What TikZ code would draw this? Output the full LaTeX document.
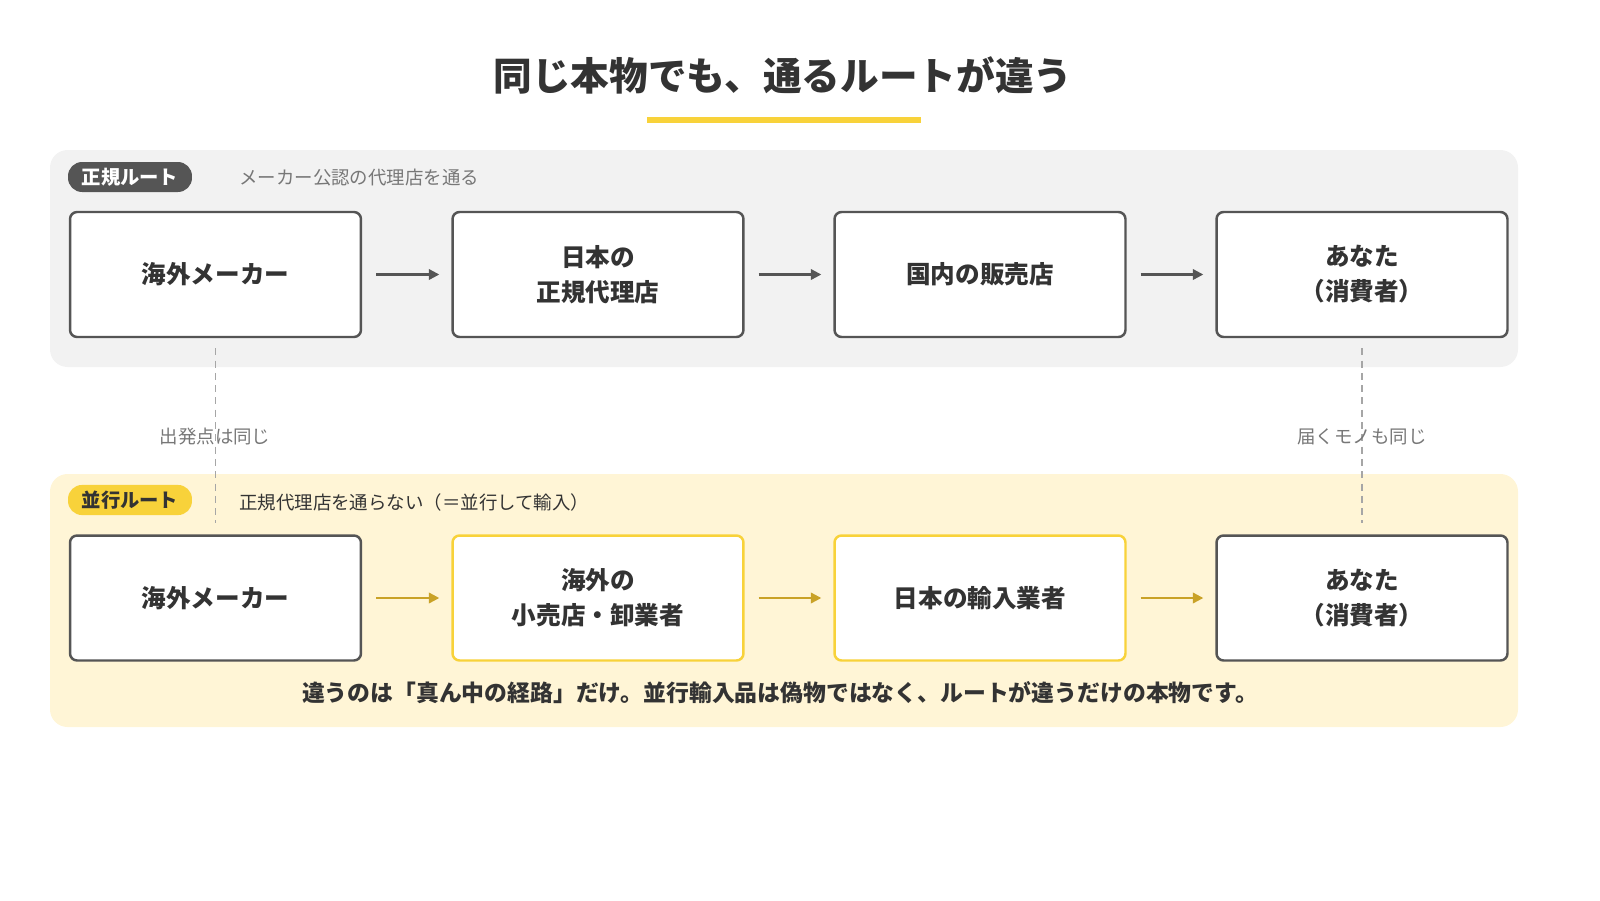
\documentclass[tikz,border=0pt]{standalone}
\usepackage{fontspec}
\setmainfont{Noto Sans CJK JP}
\usetikzlibrary{arrows.meta,positioning}
\definecolor{ink}{HTML}{333333}
\definecolor{frame}{HTML}{555555}
\definecolor{soft}{HTML}{777777}
\definecolor{gold}{HTML}{F8D23A}
\definecolor{mustard}{HTML}{C9A227}
\definecolor{panelgray}{HTML}{F2F2F2}
\definecolor{panelyellow}{HTML}{FFF5D6}

\begin{document}
\begin{tikzpicture}[x=0.02cm, y=-0.02cm,
    stage/.style={rectangle, draw=frame, line width=1.4pt, fill=white, rounded corners=4pt,
        minimum width=5.82cm, minimum height=2.5cm, align=center, text=ink,
        font=\fontsize{14}{20}\selectfont\bfseries},
    alt/.style={stage, draw=gold},
    badge/.style={rectangle, rounded corners=8pt, minimum width=2.48cm, minimum height=0.6cm,
        font=\fontsize{11}{13}\selectfont\bfseries},
    note/.style={text=soft, font=\fontsize{10.5}{12}\selectfont},
    go/.style={-{Triangle[length=6pt,width=6pt]}, line width=1.3pt, draw=frame,
        shorten <=0.28cm, shorten >=0.24cm},
    gogold/.style={go, draw=mustard},
    link/.style={draw=gray!70, line width=0.8pt, dash pattern=on 4pt off 3pt}]
    \useasboundingbox (0,0) rectangle (1600,900);

    % title
    \node[text=ink, font=\fontsize{22}{26}\selectfont\bfseries] (title) at (783,75) {同じ本物でも、通るルートが違う};
    \fill[gold] (647,117) rectangle (921,123);

    % panels
    \fill[panelgray, rounded corners=10pt] (50,150) rectangle (1518,367);
    \fill[panelyellow, rounded corners=10pt] (50,474) rectangle (1518,727);

    % regular route
    \node[badge, fill=frame, text=white] (tagA) at (130,177) {正規ルート};
    \node[note, anchor=west] (subA) at (233,178) {メーカー公認の代理店を通る};
    \node[stage] (makerA) at (215.5,274.5) {海外メーカー};
    \node[stage] (agent) at (598,274.5) {日本の\\正規代理店};
    \node[stage] (shop) at (980,274.5) {国内の販売店};
    \node[stage] (youA) at (1362,274.5) {あなた\\（消費者）};
    \draw[go] (makerA) -- (agent);
    \draw[go] (agent) -- (shop);
    \draw[go] (shop) -- (youA);

    % parallel route
    \node[badge, fill=gold, text=ink] (tagB) at (130,500) {並行ルート};
    \node[note, text=ink, anchor=west] (subB) at (233,502) {正規代理店を通らない（＝並行して輸入）};
    \node[stage] (makerB) at (215.5,598) {海外メーカー};
    \node[alt] (retail) at (598,598) {海外の\\小売店・卸業者};
    \node[alt] (importer) at (980,598) {日本の輸入業者};
    \node[stage] (youB) at (1362,598) {あなた\\（消費者）};
    \draw[gogold] (makerB) -- (retail);
    \draw[gogold] (retail) -- (importer);
    \draw[gogold] (importer) -- (youB);

    % same ends
    \draw[link, shorten <=0.2cm, shorten >=0.22cm] (makerA) -- (makerB);
    \draw[link, shorten <=0.2cm, shorten >=0.22cm] (youA) -- (youB);
    \node[note] (sameStart) at (215,437) {出発点は同じ};
    \node[note] (sameGoods) at (1362,437) {届くモノも同じ};

    \node[text=ink, font=\fontsize{13}{16}\selectfont\bfseries] (summary) at (780,693)
        {違うのは「真ん中の経路」だけ。並行輸入品は偽物ではなく、ルートが違うだけの本物です。};
\end{tikzpicture}
\end{document}
